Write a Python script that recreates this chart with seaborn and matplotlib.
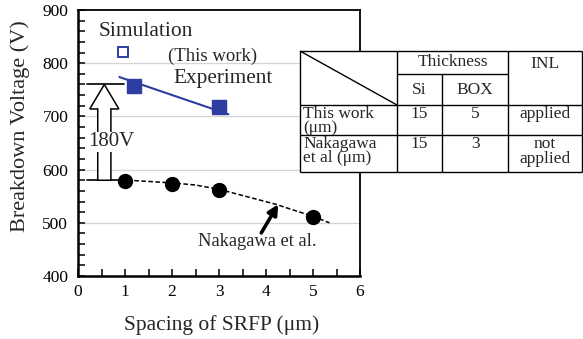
import matplotlib
matplotlib.use("Agg")
import matplotlib.pyplot as plt
import seaborn as sns
import pandas as pd
import numpy as np
from matplotlib.ticker import MultipleLocator
from matplotlib.patches import FancyArrow

# ---------------- data ----------------
sim_x = [0.96]
sim_y = [821]
exp_x = [1.19, 3.0]
exp_y = [758, 717]
exp_fit_x = [0.88, 3.2]
exp_fit_y = [774, 704]
nak_x = [1.0, 2.0, 3.0, 5.0]
nak_y = [578, 573, 562, 510]
nak_fit_x = [0.9, 2.0, 2.5, 3.0, 4.2, 5.0, 5.35]
nak_fit_y = [581, 575, 571, 563, 535, 512, 500]
gap_low, gap_high = 580, 760
gap_label = "180V"

table_cols = [300, 397, 442, 508, 582]
table_rows = [51, 74, 105, 135, 172]
row_labels = ["This work\n(μm)", "Nakagawa\net al (μm)"]
si_vals = ["15", "15"]
box_vals = ["5", "3"]
inl_vals = ["applied", "not\napplied"]

sns.set_style("white")
plt.rcParams["font.family"] = ["Liberation Serif", "DejaVu Serif"]

W, H = 583, 339
fig = plt.figure(figsize=(W / 100, H / 100), dpi=100)
fig.patch.set_facecolor("white")
ax = fig.add_axes([78 / W, (H - 276) / H, (360 - 78) / W, (276 - 10) / H])

blue = "#2d3da0"

# gridlines
for yv in [500, 600, 700, 800]:
    ax.axhline(yv, color="#d4d4d4", lw=0.9, zorder=0)

sns.lineplot(x=exp_fit_x, y=exp_fit_y, ax=ax, color=blue, lw=1.5, zorder=2)
sns.lineplot(x=nak_fit_x, y=nak_fit_y, ax=ax, color="black", lw=1.1, zorder=2)
ax.lines[-1].set_linestyle((0, (3, 1.6)))
ax.plot(exp_x, exp_y, ls="none", marker="s", ms=9.5, color=blue, zorder=3)
ax.plot(sim_x, sim_y, ls="none", marker="s", ms=7.5, mfc="white", mec=blue, mew=1.4, zorder=3)
ax.plot(nak_x, nak_y, ls="none", marker="o", ms=10, color="black", zorder=3)

# 180V hollow arrow
ax.plot([0.2, 0.98], [gap_high, gap_high], color="black", lw=1.2, zorder=2)
ax.plot([0.2, 0.98], [gap_low, gap_low], color="black", lw=1.2, zorder=2)
arr = FancyArrow(0.56, gap_low, 0, gap_high - gap_low, width=0.28, head_width=0.62,
                 head_length=46, length_includes_head=True, fc="white", ec="black",
                 lw=1.1, zorder=2)
ax.add_patch(arr)
ax.text(0.7, 652, gap_label, ha="center", va="center", fontsize=15,
        bbox=dict(fc="white", ec="none", pad=0.5), zorder=4)

ax.text(1.44, 859, "Simulation", ha="center", va="center", fontsize=15.5)
ax.text(2.87, 812, "(This work)", ha="center", va="center", fontsize=13.5)
ax.text(3.08, 772, "Experiment", ha="center", va="center", fontsize=15.3)
ax.text(3.81, 464, "Nakagawa et al.", ha="center", va="center", fontsize=13.3)
ax.annotate("", xy=(4.26, 535), xytext=(3.9, 481),
            arrowprops=dict(arrowstyle="-|>,head_length=0.6,head_width=0.3",
                            color="black", lw=2.6, shrinkA=0, shrinkB=0))

ax.set_xlim(0, 6)
ax.set_ylim(400, 900)
ax.xaxis.set_major_locator(MultipleLocator(1))
ax.xaxis.set_minor_locator(MultipleLocator(0.5))
ax.yaxis.set_major_locator(MultipleLocator(100))
ax.yaxis.set_minor_locator(MultipleLocator(20))
ax.tick_params(which="both", direction="in", length=5, width=1.1, colors="black",
               labelsize=12.5, top=False, right=False, bottom=True, left=True)
ax.tick_params(axis="x", pad=6)
ax.tick_params(axis="y", pad=7)
for sp in ax.spines.values():
    sp.set_color("black")
    sp.set_linewidth(1.3)
ax.spines["left"].set_linewidth(1.8)
ax.spines["bottom"].set_linewidth(1.8)
ax.set_xlabel("")
ax.set_ylabel("")
fig.text(222 / W, 1 - 325 / H, "Spacing of SRFP (μm)", fontsize=15.5, ha="center", va="center")
fig.text(20 / W, 1 - 126 / H, "Breakdown Voltage (V)", fontsize=16, ha="center", va="center",
         rotation=90)

# ---------------- table ----------------
tax = fig.add_axes([table_cols[0] / W, (H - table_rows[-1]) / H,
                    (W - table_cols[0]) / W, (table_rows[-1] - table_rows[0]) / H])
tax.set_xlim(table_cols[0], W)
tax.set_ylim(table_rows[-1], table_rows[0])
tax.set_facecolor("white")
tax.axis("off")
tax.add_patch(plt.Rectangle((table_cols[0], table_rows[0]), table_cols[-1] - table_cols[0],
                            table_rows[-1] - table_rows[0], fc="white", ec="none", zorder=0))
c0, c1, c2, c3, c4 = table_cols
r0, r1, r2, r3, r4 = table_rows
lk = dict(color="black", lw=1.0, clip_on=False, solid_capstyle="butt")
for yv in [r0, r2, r3, r4]:
    tax.plot([c0, c4], [yv, yv], **lk)
tax.plot([c1, c3], [r1, r1], **lk)
for xv in [c0, c1, c3, c4]:
    tax.plot([xv, xv], [r0, r4], **lk)
tax.plot([c2, c2], [r1, r4], **lk)
tax.plot([c0, c1], [r0, r2], **lk)

fs = 12.5
tax.text((c1 + c3) / 2, (r0 + r1) / 2, "Thickness", ha="center", va="center", fontsize=fs)
tax.text((c3 + c4) / 2, (r0 + r1) / 2 + 1, "INL", ha="center", va="center", fontsize=fs)
tax.text((c1 + c2) / 2, (r1 + r2) / 2, "Si", ha="center", va="center", fontsize=fs)
tax.text((c2 + c3) / 2, (r1 + r2) / 2, "BOX", ha="center", va="center", fontsize=fs)
for i, (rt, rb) in enumerate([(r2, r3), (r3, r4)]):
    tax.text(c0 + 3, rt + 0.5, row_labels[i], ha="left", va="top", fontsize=fs, linespacing=0.9)
    tax.text((c1 + c2) / 2, rt + 1, si_vals[i], ha="center", va="top", fontsize=fs)
    tax.text((c2 + c3) / 2, rt + 1, box_vals[i], ha="center", va="top", fontsize=fs)
    tax.text((c3 + c4) / 2, rt + 1, inl_vals[i], ha="center", va="top", fontsize=fs,
             linespacing=0.9, multialignment="center")

fig.savefig("out.png", dpi=100, facecolor="white")
